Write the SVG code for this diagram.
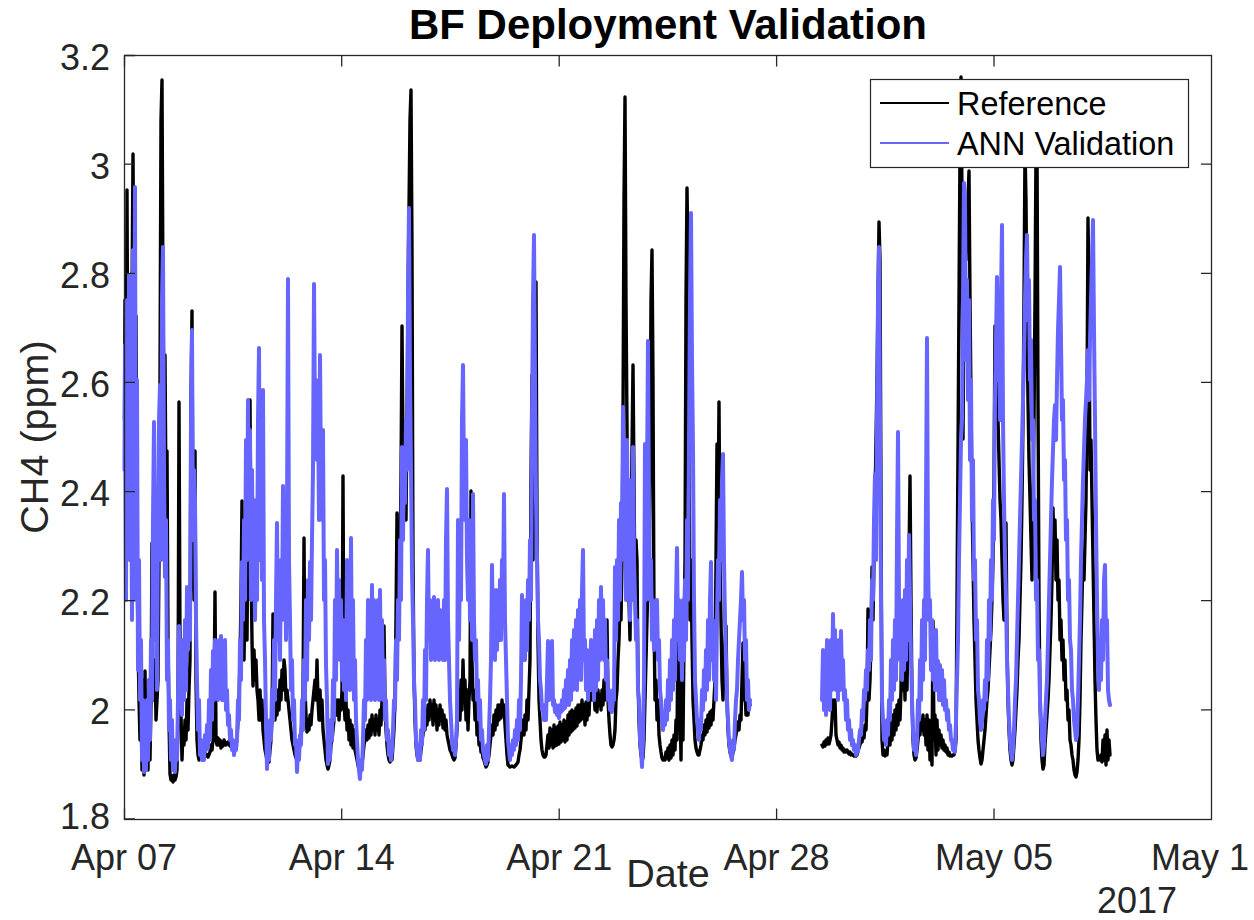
<svg xmlns="http://www.w3.org/2000/svg" width="1254" height="920" viewBox="0 0 1254 920">
<style>
text{font-family:"Liberation Sans",Arial,Helvetica,sans-serif;fill:#262626}
.tick{font-size:36px}
.yl{text-anchor:end}
.xl{text-anchor:middle}
.ax{stroke:#262626;stroke-width:1.3;fill:none}
.ref{fill:none;stroke:#000;stroke-width:3.4;stroke-linejoin:round;stroke-linecap:round}
.ann{fill:none;stroke:#6666ff;stroke-width:4;stroke-linejoin:round;stroke-linecap:round}
</style>
<rect width="1254" height="920" fill="#fff"/>
<g id="series-reference">
<polyline class="ref" points="124.5,420 125,300 126,500 127,190 128,450 129,299 130,560 131,400 132,300 133,154 134,320 135,500 136,316 137,560 138,640 139,700 140,740 141,700 142,770 143,680 144,775 145,671 146,760 147,695 148,770 149,680 150,760 151,700 152,543 153,700 154,690 155,660 156,720 157,700 158,680 159,560 160,380 161,120 162,80 163,300 164,420 165,355 166,500 167,451 168,640 169,720 170,774 171,780 172,776 173,782 174,775 175,780 176,777 177,770 178,720 179,402 180,640 181,715 182,760 183,730 184,745 185,720 186,740 187,700 188,730 189,690 190,660 191,400 192,311 193,560 194,600 195,451 196,680 197,740 198,755 199,760 200,755 201,758 202,755 204,758 206,754 208,757 210,752 211,745 212,750 213,740 214,700 215,592 216,740 217,745 218,738 219,745 220,740 221,748 222,742 223,746 224,740 226,745 228,742 230,746 232,740 234,745 236,742 237,740 238,720 239,700 240,660 241,600 242,501 243,620 244,660 245,600 246,560 247,640 248,520 249,480 250,400 251,560 252,641 253,686 254,650 255,680 256,660 257,690 258,700 259,720 260,690 261,720 262,700 263,730 264,740 265,750 266,755 267,760 268,758 269,762 270,750 271,740 272,720 273,614 274,700 275,720 276,700 277,715 278,690 279,710 280,680 281,700 282,670 283,690 284,660 285,670 286,700 287,690 288,700 289,710 290,720 291,730 292,740 293,745 294,750 295,755 296,758 297,760 298,755 299,750 300,745 301,735 302,720 303,700 304,538 305,690 306,715 307,732 308,720 309,730 310,715 311,725 312,710 313,700 314,690 315,680 316,700 317,660 318,700 319,720 320,690 321,720 322,700 323,730 324,740 325,750 326,760 327,765 328,769 329,765 330,760 331,745 332,740 333,730 334,720 335,710 336,700 337,715 338,700 339,720 340,700 341,710 342,690 343,476 344,700 345,720 346,700 347,730 348,710 349,740 350,720 351,745 352,725 353,748 354,730 355,750 356,755 357,760 358,765 359,770 360,772 361,768 362,765 363,755 364,745 365,740 366,730 367,740 368,725 369,738 370,720 371,735 372,715 373,730 374,720 375,735 376,715 377,730 378,720 379,735 380,710 381,725 382,700 383,680 384,626 385,700 386,730 387,745 388,755 389,760 390,762 391,758 392,760 393,745 394,730 395,700 396,620 397,513 398,640 399,600 400,560 401,480 402,326 403,450 404,500 405,460 406,520 407,420 408,300 409,208 410,120 411,90 412,250 413,560 414,680 415,720 416,745 417,755 418,760 419,758 420,760 421,750 422,740 423,735 424,720 425,730 426,710 427,725 428,705 429,720 430,700 431,715 432,705 433,725 434,700 435,720 436,705 437,730 438,710 439,725 440,705 441,720 442,710 443,728 444,715 445,730 446,720 447,735 448,740 449,745 450,750 451,752 452,755 453,758 454,760 455,758 456,745 457,730 458,700 459,690 460,720 461,680 462,710 463,660 464,700 465,680 466,720 467,690 468,730 469,700 470,680 471,491 472,660 473,700 474,690 475,720 476,700 477,735 478,720 479,745 480,740 481,752 482,750 483,758 484,760 485,764 486,767 487,765 488,762 489,755 490,745 491,735 492,725 493,735 494,715 495,730 496,710 497,725 498,705 499,720 500,705 501,718 502,700 503,715 504,705 505,725 506,740 507,755 508,765 510,767 512,766 514,767 516,765 518,762 519,755 520,750 521,740 522,730 523,720 524,735 525,715 526,730 527,700 528,720 529,690 530,660 531,480 532,375 533,560 534,420 535,300 536,282 537,520 538,640 539,700 540,720 541,740 542,750 543,755 544,757 545,757 546,755 547,745 548,735 549,748 550,728 551,745 552,730 553,748 554,725 555,746 556,728 557,745 558,726 559,744 560,722 561,742 562,725 563,740 564,720 565,742 566,722 567,740 568,715 569,735 570,712 571,732 572,710 573,730 574,712 575,728 576,708 577,726 578,705 579,722 580,705 581,720 582,700 583,718 584,705 585,725 586,702 587,720 588,700 589,715 590,690 591,700 592,649 593,700 594,690 595,710 596,695 597,712 598,690 599,705 600,695 601,710 602,690 603,705 604,680 605,700 606,660 607,620 608,700 609,720 610,735 611,745 612,747 613,745 614,740 615,730 616,700 617,690 618,660 619,640 620,600 621,620 622,560 623,420 624,200 625,97 626,300 627,427 628,560 629,600 630,640 631,560 632,450 633,365 634,480 635,600 636,540 637,560 638,680 639,720 640,745 641,755 642,760 643,758 644,740 645,700 646,660 647,620 648,580 649,600 650,480 651,300 652,250 653,380 654,620 655,700 656,680 657,720 658,700 659,735 660,745 661,752 662,758 663,760 664,758 665,760 666,752 667,758 668,748 669,760 670,745 671,758 672,740 673,755 674,735 675,750 676,720 677,740 678,620 679,730 680,700 681,760 682,660 683,740 684,640 685,560 686,300 687,188 688,260 689,450 690,620 691,560 692,640 693,700 694,720 695,740 696,748 697,752 698,755 699,755 700,750 701,745 702,735 703,740 704,725 705,735 706,720 707,732 708,715 709,728 710,712 711,725 712,710 713,720 714,700 715,680 716,560 717,444 718,520 719,402 720,560 721,620 722,680 723,700 724,660 725,640 726,626 727,700 728,730 729,745 730,752 731,756 732,758 733,752 734,748 735,740 736,735 737,728 738,722 739,730 740,715 741,720 742,680 743,643 744,700 745,690 746,715 747,700 748,715 749,700 750,705"/>
<polyline class="ref" points="822,745 823,747 824,742 825,746 826,740 827,744 828,738 829,744 830,740 831,735 832,720 833,700 834,715 835,700 836,735 837,740 838,745 839,742 840,748 841,745 842,750 843,748 844,752 845,750 846,752 847,750 848,752 849,754 850,752 851,755 852,754 853,755 854,756 855,755 856,756 857,755 858,750 859,748 860,745 861,740 862,742 863,735 864,738 865,725 866,730 867,700 868,609 869,700 870,680 871,640 872,567 873,620 874,560 875,500 876,440 877,380 878,300 879,222 880,260 881,500 882,740 883,755 884,750 885,756 886,752 887,755 888,740 889,730 890,745 891,720 892,740 893,715 894,735 895,710 896,730 897,705 898,725 899,700 900,720 901,690 902,602 903,690 904,660 905,700 906,640 907,690 908,620 909,560 910,476 911,600 912,700 913,740 914,755 915,760 916,758 917,750 918,740 919,730 920,735 921,720 922,730 923,715 924,735 925,720 926,745 927,715 928,750 929,720 930,760 931,725 932,765 933,621 934,740 935,715 936,755 937,720 938,750 939,730 940,745 941,735 942,748 943,740 944,750 945,745 946,752 947,748 948,755 949,752 950,756 951,755 952,756 953,755 954,755 955,750 956,740 957,600 958,451 959,300 960,150 961,77 962,200 963,439 964,300 965,200 966,260 967,220 968,200 969,171 970,300 971,400 972,500 973,560 974,620 975,660 976,700 977,720 978,740 979,750 980,758 981,764 982,760 983,750 984,740 985,730 986,715 987,700 988,690 989,670 990,650 991,630 992,600 993,560 994,480 995,326 996,400 997,279 998,420 999,460 1000,500 1001,520 1002,560 1003,600 1004,620 1005,560 1006,523 1007,640 1008,700 1009,730 1010,750 1011,760 1012,765 1013,760 1014,745 1015,730 1016,710 1017,690 1018,660 1019,640 1020,600 1021,560 1022,500 1023,420 1024,300 1025,150 1026,200 1027,320 1028,400 1029,460 1030,500 1031,540 1032,580 1033,500 1034,420 1035,300 1036,150 1037,140 1038,400 1039,600 1040,700 1041,740 1042,760 1043,769 1044,765 1045,745 1046,730 1047,715 1048,700 1049,680 1050,650 1051,620 1052,580 1053,508 1054,560 1055,520 1056,580 1057,540 1058,600 1059,580 1060,640 1061,620 1062,660 1063,640 1064,680 1065,660 1066,700 1067,690 1068,720 1069,710 1070,740 1071,745 1072,755 1073,760 1074,770 1075,775 1076,777 1077,772 1078,760 1079,740 1080,700 1081,640 1082,600 1083,553 1084,580 1085,540 1086,500 1087,400 1088,218 1089,300 1090,470 1091,440 1092,500 1093,560 1094,620 1095,680 1096,720 1097,750 1098,760 1099,758 1100,760 1101,755 1102,762 1103,740 1104,760 1105,735 1106,765 1107,730 1108,760 1109,740 1110,755"/>
</g>
<g id="series-ann">
<polyline class="ann" points="124.5,470 125,345 126,600 127,300 128,520 129,275 130,560 131,420 132,620 133,250 134,500 135,187 136,600 137,380 138,670 139,560 140,700 141,640 142,760 143,700 144,772 145,740 146,770 147,700 148,760 149,680 150,740 151,640 152,700 153,520 154,422 155,640 156,500 157,690 158,520 159,420 160,385 161,560 162,300 163,247 164,470 165,577 166,520 167,680 168,640 169,730 170,700 171,760 172,720 173,770 174,745 175,772 176,740 177,760 178,700 179,626 180,700 181,650 182,715 183,640 184,700 185,620 186,690 187,587 188,650 189,590 190,640 191,420 192,330 193,540 194,470 195,500 196,620 197,680 198,730 199,700 200,755 201,740 202,760 203,745 204,760 205,735 206,750 207,725 208,748 209,700 210,740 211,670 212,720 213,651 214,700 215,640 216,690 217,660 218,700 219,640 220,690 221,636 222,700 223,650 224,700 225,640 226,710 227,690 228,725 229,715 230,740 231,730 232,750 233,740 234,755 235,745 236,750 237,740 238,700 239,720 240,640 241,680 242,562 243,620 244,520 245,600 246,440 247,560 248,400 249,520 250,430 251,600 252,470 253,580 254,500 255,620 256,540 257,600 258,420 259,348 260,560 261,460 262,580 263,390 264,620 265,660 266,720 267,769 268,740 269,760 270,720 271,740 272,690 273,720 274,640 275,700 276,600 277,523 278,640 279,580 280,660 281,560 282,620 283,486 284,600 285,540 286,640 287,520 288,279 289,560 290,620 291,690 292,660 293,720 294,700 295,745 296,740 297,772 298,750 299,760 300,735 301,745 302,700 303,730 304,660 305,700 306,600 307,680 308,580 309,640 310,562 311,620 312,540 313,470 314,284 315,420 316,380 317,460 318,400 319,520 320,355 321,480 322,520 323,430 324,600 325,560 326,665 327,700 328,764 329,740 330,760 331,720 332,740 333,680 334,720 335,600 336,680 337,550 338,640 339,580 340,660 341,600 342,680 343,620 344,690 345,640 346,700 347,560 348,660 349,580 350,690 351,538 352,680 353,600 354,700 355,660 356,720 357,740 358,760 359,770 360,779 361,760 362,770 363,740 364,700 365,720 366,640 367,700 368,600 369,690 370,620 371,700 372,585 373,680 374,600 375,700 376,620 377,690 378,600 379,700 380,590 381,680 382,620 383,700 384,660 385,720 386,700 387,740 388,730 389,755 390,745 391,760 392,750 393,730 394,700 395,710 396,640 397,680 398,600 399,640 400,540 401,600 402,447 403,540 404,460 405,503 406,420 407,470 408,300 409,208 410,380 411,470 412,572 413,620 414,680 415,700 416,740 417,750 418,760 419,745 420,760 421,730 422,745 423,700 424,730 425,650 426,700 427,600 428,550 429,640 430,600 431,660 432,610 433,650 434,597 435,660 436,620 437,651 438,600 439,660 440,610 441,650 442,620 443,660 444,600 445,660 446,540 447,489 448,620 449,660 450,700 451,720 452,740 453,750 454,745 455,755 456,740 457,720 458,520 459,640 460,560 461,600 462,420 463,365 464,480 465,520 466,440 467,560 468,600 469,520 470,620 471,560 472,640 473,494 474,620 475,660 476,640 477,700 478,680 479,720 480,700 481,740 482,730 483,750 484,755 485,760 486,764 487,745 488,760 489,730 490,700 491,660 492,565 493,640 494,600 495,660 496,590 497,650 498,600 499,640 500,580 501,640 502,560 503,600 504,494 505,620 506,660 507,700 508,740 509,750 510,760 511,745 512,755 513,740 514,750 515,730 516,745 517,720 518,740 519,700 520,730 521,680 522,595 523,660 524,620 525,660 526,600 527,650 528,580 529,620 530,540 531,600 532,420 533,300 534,235 535,380 536,500 537,557 538,620 539,640 540,680 541,690 542,710 543,705 544,720 545,715 546,720 547,680 548,641 549,700 550,660 551,690 552,641 553,705 554,700 555,712 556,705 557,715 558,706 559,718 560,705 561,712 562,700 563,710 564,690 565,708 566,680 567,705 568,670 569,705 570,660 571,700 572,640 573,690 574,630 575,680 576,620 577,690 578,610 579,670 580,600 581,680 582,590 583,550 584,660 585,640 586,690 587,650 588,700 589,660 590,690 591,640 592,690 593,650 594,700 595,630 596,690 597,620 598,680 599,600 600,660 601,587 602,640 603,600 604,660 605,620 606,680 607,660 608,700 609,690 610,710 611,700 612,712 613,690 614,700 615,567 616,640 617,560 618,620 619,520 620,600 621,503 622,560 623,407 624,520 625,480 626,600 627,440 628,560 629,480 630,620 631,520 632,600 633,447 634,560 635,600 636,640 637,620 638,690 639,700 640,740 641,750 642,767 643,740 644,680 645,444 646,600 647,480 648,341 649,520 650,600 651,560 652,640 653,600 654,650 655,610 656,640 657,600 658,660 659,640 660,690 661,700 662,720 663,730 664,715 665,725 666,700 667,720 668,680 669,710 670,660 671,700 672,640 673,690 674,620 675,680 676,600 677,548 678,640 679,600 680,660 681,620 682,680 683,600 684,660 685,580 686,640 687,520 688,600 689,440 690,300 691,213 692,360 693,449 694,600 695,680 696,700 697,720 698,730 699,740 700,720 701,730 702,690 703,710 704,670 705,700 706,650 707,690 708,620 709,680 710,600 711,562 712,660 713,620 714,680 715,640 716,700 717,620 718,560 719,600 720,500 721,560 722,480 723,454 724,560 725,620 726,660 727,700 728,720 729,740 730,750 731,755 732,760 733,740 734,750 735,720 736,700 737,690 738,660 739,640 740,620 741,600 742,572 743,620 744,600 745,660 746,640 747,700 748,680 749,710 750,700"/>
<polyline class="ann" points="822,700 823,650 824,710 825,660 826,715 827,640 828,700 829,660 830,710 831,640 832,690 833,614 834,680 835,630 836,690 837,650 838,700 839,640 840,690 841,631 842,680 843,660 844,700 845,690 846,720 847,700 848,730 849,720 850,740 851,730 852,745 853,740 854,750 855,745 856,755 857,750 858,752 859,740 860,730 861,735 862,710 863,720 864,690 865,700 866,670 867,690 868,650 869,670 870,620 871,660 872,580 873,600 874,520 875,474 876,560 877,420 878,300 879,247 880,420 881,600 882,700 883,720 884,740 885,730 886,745 887,720 888,735 889,700 890,720 891,660 892,700 893,640 894,690 895,620 896,680 897,540 898,432 899,600 900,660 901,620 902,680 903,600 904,670 905,590 906,660 907,560 908,640 909,535 910,600 911,660 912,700 913,730 914,750 915,740 916,755 917,740 918,700 919,720 920,660 921,700 922,620 923,680 924,600 925,660 926,500 927,338 928,560 929,620 930,600 931,670 932,620 933,680 934,640 935,690 936,630 937,690 938,661 939,700 940,665 941,700 942,670 943,705 944,680 945,710 946,700 947,720 948,710 949,730 950,725 951,740 952,740 953,750 954,745 955,752 956,720 957,680 958,640 959,560 960,500 961,440 962,420 963,300 964,183 965,200 966,360 967,280 968,400 969,300 970,460 971,380 972,520 973,460 974,580 975,560 976,640 977,620 978,690 979,700 980,720 981,730 982,722 983,700 984,710 985,680 986,700 987,640 988,680 989,600 990,640 991,560 992,600 993,500 994,540 995,400 996,340 997,277 998,380 999,330 1000,420 1001,300 1002,225 1003,420 1004,500 1005,560 1006,600 1007,660 1008,690 1009,720 1010,740 1011,752 1012,760 1013,750 1014,730 1015,700 1016,680 1017,640 1018,600 1019,560 1020,520 1021,480 1022,440 1023,400 1024,360 1025,300 1026,260 1027,235 1028,320 1029,280 1030,380 1031,340 1032,440 1033,420 1034,520 1035,500 1036,600 1037,580 1038,660 1039,650 1040,700 1041,720 1042,740 1043,755 1044,745 1045,720 1046,700 1047,680 1048,640 1049,600 1050,560 1051,520 1052,480 1053,450 1054,420 1055,405 1056,440 1057,380 1058,330 1059,300 1060,267 1061,340 1062,420 1063,400 1064,480 1065,460 1066,540 1067,520 1068,600 1069,580 1070,640 1071,650 1072,690 1073,700 1074,720 1075,730 1076,740 1077,735 1078,700 1079,660 1080,620 1081,560 1082,520 1083,480 1084,450 1085,420 1086,400 1087,380 1088,350 1089,400 1090,340 1091,300 1092,260 1093,220 1094,330 1095,420 1096,520 1097,600 1098,660 1099,690 1100,650 1101,680 1102,620 1103,660 1104,580 1105,565 1106,640 1107,620 1108,690 1109,700 1110,705"/>
</g>
<g id="axes">
<rect class="ax" x="124.5" y="55.5" width="1087" height="764"/>
<path class="ax" d="M124.5 819.5V808.5M341.7 819.5V808.5M559.2 819.5V808.5M776.6 819.5V808.5M994 819.5V808.5M124.5 55.5V66.5M341.7 55.5V66.5M559.2 55.5V66.5M776.6 55.5V66.5M994 55.5V66.5M124.5 819H135M124.5 709.9H135M124.5 600.7H135M124.5 491.6H135M124.5 382.4H135M124.5 273.3H135M124.5 164.2H135M124.5 55.5H135M1211.5 709.9H1201M1211.5 600.7H1201M1211.5 491.6H1201M1211.5 382.4H1201M1211.5 273.3H1201M1211.5 164.2H1201"/>
</g>
<g id="y-tick-labels" class="tick yl">
<text x="110" y="70">3.2</text>
<text x="110" y="179">3</text>
<text x="110" y="288">2.8</text>
<text x="110" y="397">2.6</text>
<text x="110" y="506">2.4</text>
<text x="110" y="615">2.2</text>
<text x="110" y="724">2</text>
<text x="110" y="829">1.8</text>
</g>
<g id="x-tick-labels" class="tick xl">
<text x="124" y="870">Apr 07</text>
<text x="341.7" y="870">Apr 14</text>
<text x="559.2" y="870">Apr 21</text>
<text x="776.6" y="870">Apr 28</text>
<text x="994" y="870">May 05</text>
<text x="1151" y="870" text-anchor="start">May 1</text>
<text x="1177" y="913" text-anchor="end">2017</text>
</g>
<g id="axis-labels">
<text x="668" y="887" font-size="39.6" text-anchor="middle">Date</text>
<text transform="translate(48,437) rotate(-90)" font-size="39.6" text-anchor="middle">CH4 (ppm)</text>
</g>
<g id="title">
<text x="668" y="39" font-size="42" font-weight="bold" text-anchor="middle" style="fill:#000">BF Deployment Validation</text>
</g>
<g id="legend">
<rect x="870.5" y="79.5" width="318" height="88" fill="#fff" stroke="#262626" stroke-width="1.2"/>
<line x1="880" y1="103" x2="949" y2="103" stroke="#000" stroke-width="2"/>
<line x1="880" y1="143" x2="949" y2="143" stroke="#6666ff" stroke-width="2"/>
<text x="957" y="115" font-size="32.4" style="fill:#000">Reference</text>
<text x="957" y="155" font-size="32.4" style="fill:#000">ANN Validation</text>
</g>
</svg>
